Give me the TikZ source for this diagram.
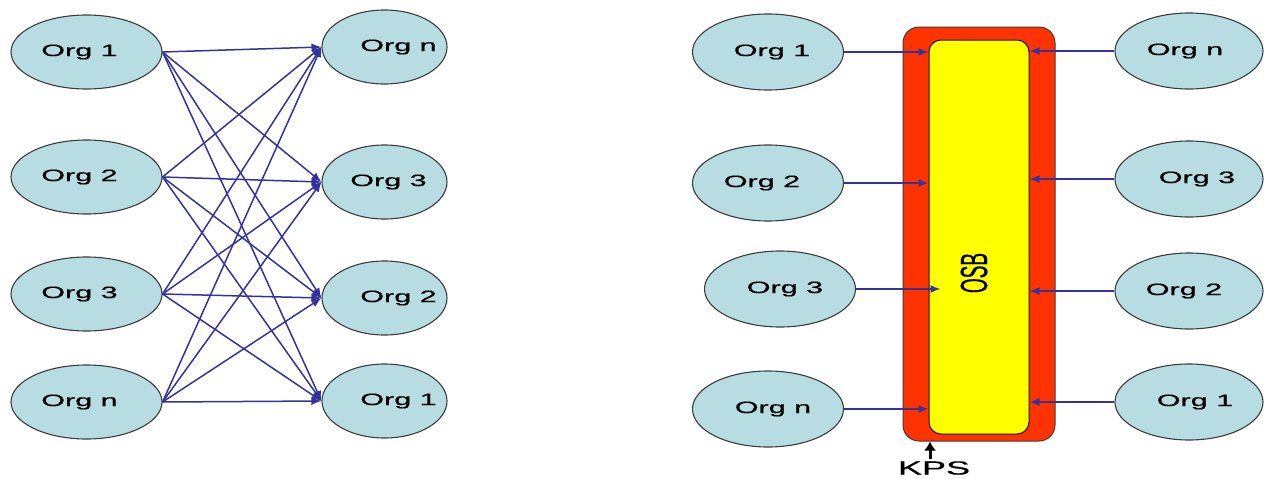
\documentclass[tikz,border=0pt]{standalone}
\usepackage{fontspec}
\setmainfont{Liberation Sans}
\newfontfamily\orgfont{Liberation Sans}[FakeBold=0.5]
\usepackage{graphicx}
\usetikzlibrary{shapes.geometric,arrows.meta,calc}
\definecolor{orgfill}{RGB}{183,221,226}
\definecolor{orgline}{RGB}{60,60,60}
\definecolor{arrblue}{RGB}{51,51,160}
\definecolor{kpsred}{RGB}{255,51,0}
\definecolor{osbyel}{RGB}{255,255,0}
% optional argument: horizontal shift of the label inside its ellipse
\newcommand{\orgtxt}[2][0pt]{\makebox[0pt]{\kern#1\kern#1\scalebox{1.85}[1]{\orgfont\fontsize{16.5}{18}\selectfont #2}}}
\begin{document}
\begin{tikzpicture}[x=1pt,y=-1pt,
  org/.style={ellipse, draw=orgline, line width=1.1pt, fill=orgfill,
    minimum width=151pt, minimum height=74pt, inner sep=0pt},
  orgnarrow/.style={org, minimum width=125pt},
  orgright/.style={org, minimum width=148pt, minimum height=76pt},
  orgleft/.style={org, minimum height=76pt},
  link/.style={draw=arrblue, line width=1.5pt, -{Latex[length=10pt,width=8pt]}},
  kpsbox/.style={draw=orgline, line width=1pt, fill=kpsred, rounded corners=16pt,
    minimum width=152pt, minimum height=414pt, inner sep=0pt},
  osbbox/.style={draw=black!70!orgline, line width=1pt, fill=osbyel, rounded corners=12pt,
    minimum width=100pt, minimum height=394pt, inner sep=0pt},
  kpsarrow/.style={draw=black, line width=3pt, -{Latex[length=9pt,width=12pt]}}
  ]
\useasboundingbox (0,0) rectangle (1267,479);
% ---------- left diagram ----------
\node[org] (L1) at (86.5,52)  {\orgtxt[-7pt]{Org 1}};
\node[org] (L2) at (86.5,177) {\orgtxt[-7pt]{Org 2}};
\node[org] (L3) at (86.5,294) {\orgtxt[-7pt]{Org 3}};
\node[org] (L4) at (86.5,402) {\orgtxt[-7pt]{Org n}};
\node[orgnarrow] (R1) at (384.5,47)  {\orgtxt[14pt]{Org n}};
\node[orgnarrow] (R2) at (384.5,182) {\orgtxt[4pt]{Org 3}};
\node[orgnarrow] (R3) at (384.5,298) {\orgtxt[14pt]{Org 2}};
\node[orgnarrow] (R4) at (384.5,401) {\orgtxt[14pt]{Org 1}};
\foreach \s in {L1,L2,L3,L4}{
  \foreach \t in {R1,R2,R3,R4}{
    \draw[link] (\s.east) -- (\t.west);
  }
}
% ---------- right diagram ----------
\node[kpsbox] (kps) at (979,234) {};
\node[osbbox] (osb) at (979,237) {};
\node at (974,273) {\scalebox{2}[1]{\rotatebox{90}{\orgfont\fontsize{19}{22}\selectfont OSB}}};
\node[orgleft] (A1) at (768,52)  {\orgtxt[4pt]{Org 1}};
\node[orgleft] (A2) at (768,183) {\orgtxt[-6pt]{Org 2}};
\node[orgleft] (A3) at (780,289) {\orgtxt[5pt]{Org 3}};
\node[orgleft] (A4) at (768,409) {\orgtxt[5pt]{Org n}};
\node[orgright] (B1) at (1189,51)  {\orgtxt[-4pt]{Org n}};
\node[orgright] (B2) at (1189,179) {\orgtxt[8pt]{Org 3}};
\node[orgright] (B3) at (1189,291) {\orgtxt[-5pt]{Org 2}};
\node[orgright] (B4) at (1189,402) {\orgtxt[6pt]{Org 1}};
\draw[link] (A1.east) -- (A1.east -| osb.west);
\draw[link] (A2.east) -- (A2.east -| osb.west);
\draw[link] (A3.east) -- ([xshift=12pt]A3.east -| osb.west);
\draw[link] (A4.east) -- (A4.east -| osb.west);
\draw[link] (B1.west) -- (B1.west -| osb.east);
\draw[link] (B2.west) -- (B2.west -| osb.east);
\draw[link] (B3.west) -- (B3.west -| osb.east);
\draw[link] (B4.west) -- (B4.west -| osb.east);
\node (kpst) at (934,468) {\scalebox{1.9}[1]{\orgfont\fontsize{19}{22}\selectfont KPS}};
\coordinate (kpsfoot) at (930,459);
\draw[kpsarrow] (kpsfoot) -- (kpsfoot |- kps.south);
\end{tikzpicture}
\end{document}
